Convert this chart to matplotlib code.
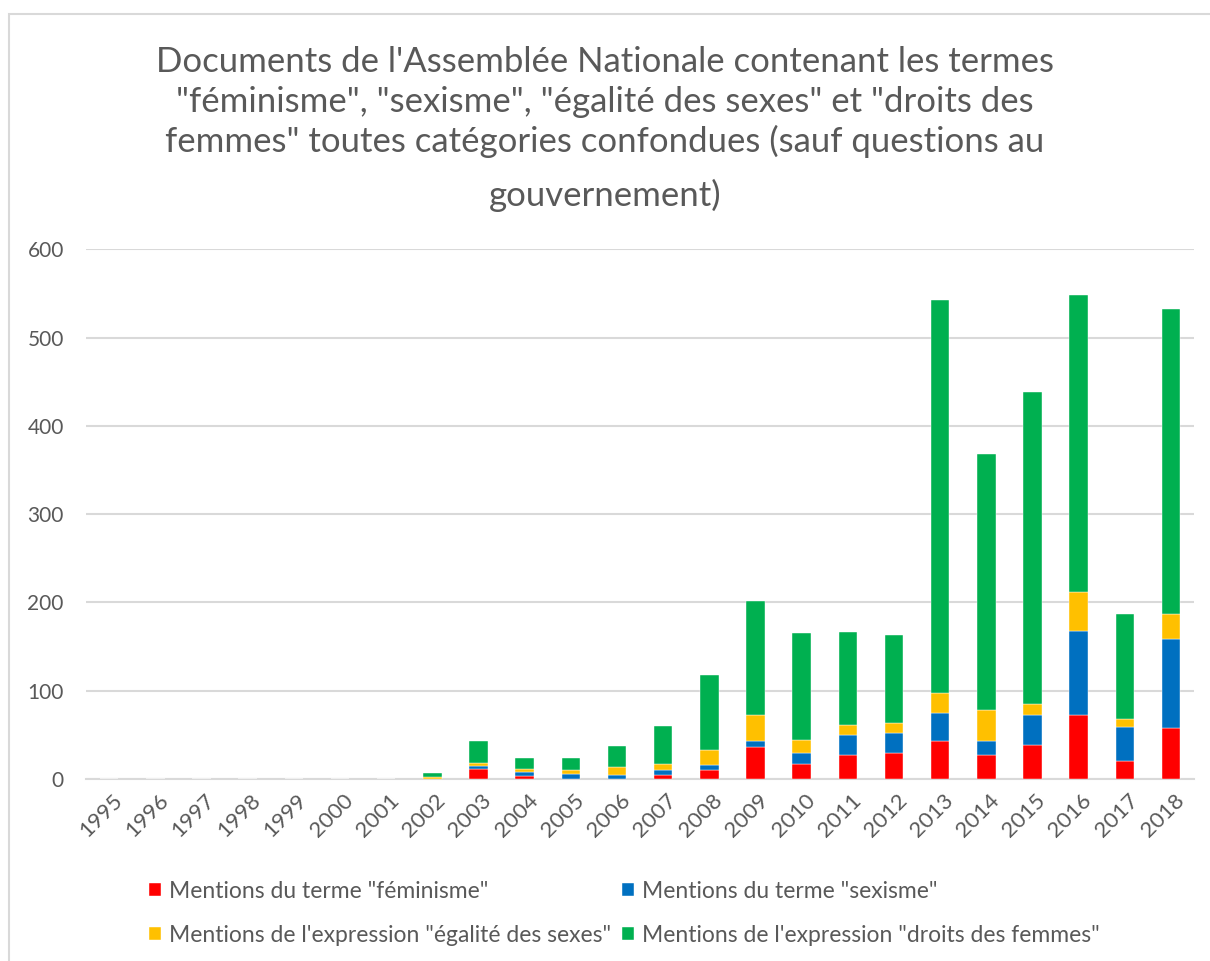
import numpy as np
import matplotlib.pyplot as plt
from matplotlib.patches import Rectangle
from matplotlib.transforms import ScaledTranslation

plt.rcParams['font.family'] = ['Lato', 'DejaVu Sans']

# Data.
years = [str(y) for y in range(1995, 2019)]
feminisme = [0, 0, 0, 0, 0, 0, 0, 0, 11, 3, 0, 0, 5, 10, 36, 17, 27, 30, 43, 27, 39, 72, 20, 58]
sexisme = [0, 0, 0, 0, 0, 0, 0, 0, 4, 5, 6, 5, 5, 6, 7, 13, 23, 22, 32, 16, 33, 96, 39, 100]
egalite = [0, 0, 0, 0, 0, 0, 0, 2, 3, 3, 4, 9, 7, 17, 30, 14, 11, 11, 22, 35, 13, 44, 9, 29]
droits = [0, 0, 0, 0, 0, 0, 0, 5, 25, 13, 14, 23, 43, 85, 129, 121, 105, 100, 445, 290, 353, 336, 119, 345]

labels = ['Mentions du terme "féminisme"',
          'Mentions du terme "sexisme"',
          'Mentions de l\'expression "égalité des sexes"',
          'Mentions de l\'expression "droits des femmes"']
colors = ['#FF0000', '#0070C0', '#FFC000', '#00B050']
title_lines = ['Documents de l\'Assemblée Nationale contenant les termes',
               '"féminisme", "sexisme", "égalité des sexes" et "droits des',
               'femmes" toutes catégories confondues (sauf questions au',
               'gouvernement)']

grey = '#595959'
grid = '#D9D9D9'

fig = plt.figure(figsize=(12.1, 9.61), dpi=100)
ax = fig.add_axes([0.0711, 0.1894, 0.9157, 0.5512])

x = np.arange(len(years))
series = [feminisme, sexisme, egalite, droits]
bottom = np.zeros(len(years))
bars = []
for vals, col, lab in zip(series, colors, labels):
    b = ax.bar(x, vals, width=0.4, bottom=bottom, color=col, label=lab,
               edgecolor='white', linewidth=0.3, zorder=3)
    bars.append(b)
    bottom += np.array(vals)

ax.set_xlim(-0.5, len(years) - 0.5)
ax.set_ylim(0, 600)
ax.set_yticks(range(0, 601, 100))
ax.set_xticks(x)
ax.set_xticklabels(years, rotation=45, ha='right', rotation_mode='anchor')
ax.tick_params(axis='both', length=0, labelcolor=grey)
ax.tick_params(axis='y', pad=16, labelsize=15)
ax.tick_params(axis='x', pad=8, labelsize=16)
shift = ScaledTranslation(3 / 100, 0, fig.dpi_scale_trans)
for lbl in ax.get_xticklabels():
    lbl.set_transform(lbl.get_transform() + shift)
ax.yaxis.grid(True, color=grid, linewidth=1.5, zorder=0)
for s in ['top', 'right', 'left']:
    ax.spines[s].set_visible(False)
ax.spines['bottom'].set_color(grid)
ax.spines['bottom'].set_linewidth(1.5)

# title, one text per line (baselines)
for line, base in zip(title_lines, [71.5, 111.5, 151.5, 206.5]):
    fig.text(0.5, 1 - base / 961, line, ha='center', va='baseline',
             fontsize=25, color=grey)

# legend: row-wise order red/blue, yellow/green
handles = [bars[0], bars[2], bars[1], bars[3]]
leg_labels = [labels[0], labels[2], labels[1], labels[3]]
fig.legend(handles, leg_labels, loc='upper left', bbox_to_anchor=(0.1157, 0.093),
           ncol=2, frameon=False, fontsize=16.5, labelcolor=grey,
           handlelength=0.52, handleheight=0.52, handletextpad=0.33,
           columnspacing=0.5, labelspacing=1.0, borderaxespad=0)

# light grey frame around the whole chart
fig.patches.append(Rectangle((9 / 1210, -0.02), 1.02, 1 - 14 / 961 + 0.02,
                             transform=fig.transFigure, fill=False,
                             edgecolor=grid, linewidth=1.5))

fig.savefig('out.png', dpi=100)
